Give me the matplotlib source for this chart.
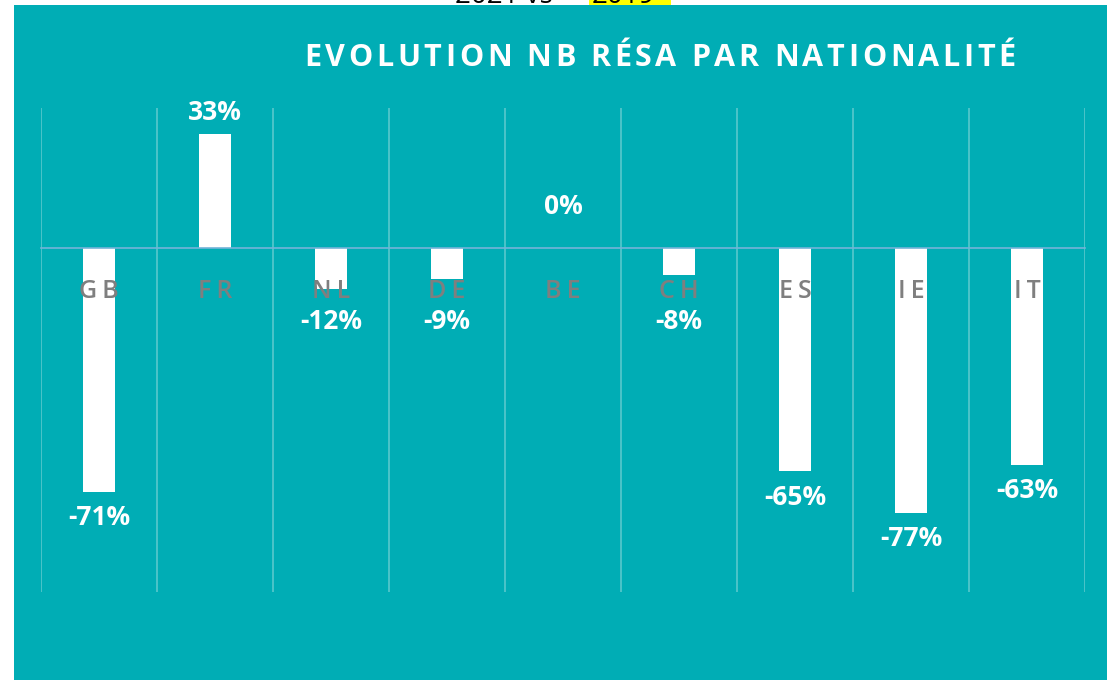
import matplotlib.pyplot as plt
from matplotlib.patches import Rectangle

countries = ["GB", "FR", "NL", "DE", "BE", "CH", "ES", "IE", "IT"]
evolution = [-71, 33, -12, -9, 0, -8, -65, -77, -63]  # % change 2021 vs 2019

TEAL = "#00adb5"
GRID = "#4cc4c9"
ZERO = "#74b4d8"
LABEL_GREY = "#7f7f7f"
FONT = ["Open Sans", "DejaVu Sans"]

plt.rcParams["font.family"] = FONT

W, H = 1107, 680
fig = plt.figure(figsize=(W / 100, H / 100), dpi=100)
fig.patch.set_facecolor("white")
fig.add_artist(Rectangle((14 / W, 0), 1 - 14 / W, 1 - 5 / H,
                         transform=fig.transFigure, facecolor=TEAL, edgecolor="none", zorder=0))


def spaced_text(x_center, y, text, gap_px, **kw):
    """Draw text letter by letter (figure px coords) to mimic character spacing."""
    renderer = fig.canvas.get_renderer()
    widths = []
    for ch in text:
        t = fig.text(0, 0, ch, **kw)
        widths.append(t.get_window_extent(renderer).width)
        t.remove()
    total = sum(widths) + gap_px * (len(text) - 1)
    x = x_center - total / 2
    for ch, w in zip(text, widths):
        fig.text(x / W, 1 - y / H, ch, ha="left", va="center", **kw)
        x += w + gap_px


# heading above the chart, cut off by the top edge as in the source slide
fig.add_artist(Rectangle((589 / W, 1 - 5 / H), 82 / W, 5 / H,
                         transform=fig.transFigure, facecolor="#ffff00", edgecolor="none", zorder=1))
fig.text(455 / W, 1 - 3 / H, "2021 vs", color="black", fontsize=20, va="baseline", ha="left", zorder=2)
fig.text(592 / W, 1 - 3 / H, "2019", color="black", fontsize=20, va="baseline", ha="left", zorder=2)

ax = fig.add_axes([41 / W, 1 - 592 / H, 1044 / W, 484 / H])
ax.set_facecolor("none")

ax.spines["bottom"].set_position(("data", 0))
for side in ["top", "right", "left"]:
    ax.spines[side].set_visible(False)
ax.spines["bottom"].set_color(ZERO)
ax.spines["bottom"].set_linewidth(1.2)

x = range(len(countries))
ax.bar(x, evolution, width=0.28, color="white", zorder=1)

ax.set_xlim(-0.5, len(countries) - 0.5)
ax.set_ylim(-100, 40.5)

for boundary in range(len(countries) + 1):
    ax.axvline(boundary - 0.5, color=GRID, linewidth=1.4, zorder=0)

for i, v in enumerate(evolution):
    if v >= 0:
        y = max(v + 6.3, 12)
    else:
        y = min(v - 7.5, -21.5)
    ax.text(i, y, f"{v}%", ha="center", va="center", color="white",
            fontsize=19, fontweight="bold")

ax.set_xticks(list(x))
ax.set_xticklabels(["\u2009".join(c) for c in countries])
ax.tick_params(axis="x", length=0, pad=23, labelsize=18, labelcolor=LABEL_GREY)
for lbl in ax.get_xticklabels():
    lbl.set_fontweight("semibold")
ax.set_yticks([])

spaced_text(660, 58, "EVOLUTION NB RÉSA PAR NATIONALITÉ", 3.6,
            color="white", fontsize=22, fontweight="bold")

fig.savefig("out.png", dpi=100)
